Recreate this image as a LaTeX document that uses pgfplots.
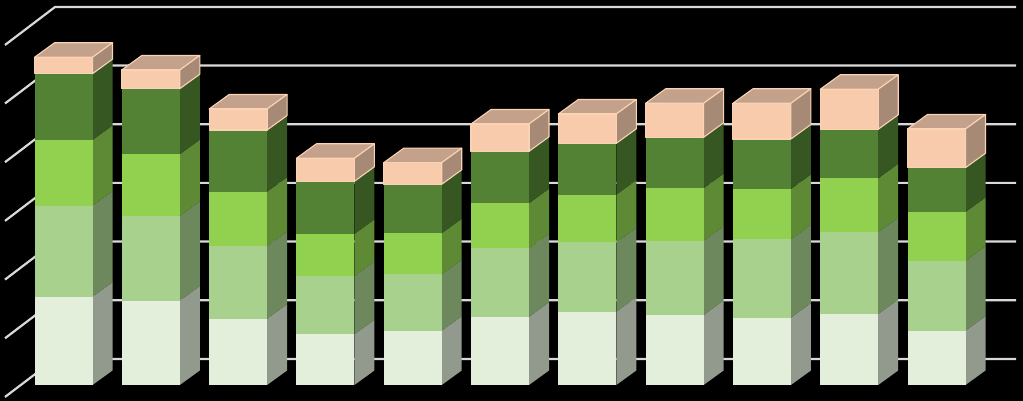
\documentclass[border=0pt]{standalone}
\usepackage{pgfplots}
\pgfplotsset{compat=1.18}
\definecolor{gridc}{HTML}{D9D9D9}
\definecolor{fa}{HTML}{E3EFDA}\definecolor{sa}{HTML}{92998D}
\definecolor{fb}{HTML}{A9D18E}\definecolor{sb}{HTML}{6E885D}
\definecolor{fc}{HTML}{92D050}\definecolor{sc}{HTML}{5F8A35}
\definecolor{fd}{HTML}{548235}\definecolor{sd}{HTML}{365722}
\definecolor{fe}{HTML}{F8CBAD}\definecolor{se}{HTML}{A68A76}\definecolor{te}{HTML}{C3A18B}
\definecolor{oe}{HTML}{FAD2B4}
\newcommand\barw{58}\newcommand\dpx{20}\newcommand\dpy{14.5}
\newcommand\poly[2]{\edef\tmp{\noexpand\addplot[#1] coordinates {#2} --cycle;}\tmp}
% x, y0, y1, front, side
\newcommand\seg[5]{%
  \pgfmathsetmacro\xa{#1}\pgfmathsetmacro\xb{#1+\barw}\pgfmathsetmacro\xc{#1+\barw+\dpx}%
  \pgfmathsetmacro\ya{#2}\pgfmathsetmacro\yb{#3}%
  \pgfmathsetmacro\yc{#2+\dpy}\pgfmathsetmacro\yd{#3+\dpy}%
  \poly{fill=#5,draw=none}{(\xb,\ya)(\xc,\yc)(\xc,\yd)(\xb,\yb)}%
  \poly{fill=#4,draw=none}{(\xa,\ya)(\xb,\ya)(\xb,\yb)(\xa,\yb)}%
}
% x, five segment values
\newcommand\stackbar[6]{%
  \pgfmathsetmacro\sa{#2}\pgfmathsetmacro\sb{#2+#3}\pgfmathsetmacro\sc{#2+#3+#4}%
  \pgfmathsetmacro\sd{#2+#3+#4+#5}\pgfmathsetmacro\se{#2+#3+#4+#5+#6}%
  \edef\sA{\sa}\edef\sB{\sb}\edef\sC{\sc}\edef\sD{\sd}\edef\sE{\se}%
  \seg{#1}{0}{\sA}{fa}{sa}%
  \seg{#1}{\sA}{\sB}{fb}{sb}%
  \seg{#1}{\sB}{\sC}{fc}{sc}%
  \seg{#1}{\sC}{\sD}{fd}{sd}%
  \pgfmathsetmacro\xa{#1}\pgfmathsetmacro\xb{#1+\barw}\pgfmathsetmacro\xc{#1+\barw+\dpx}\pgfmathsetmacro\xd{#1+\dpx}%
  \pgfmathsetmacro\yc{\sD+\dpy}\pgfmathsetmacro\yd{\sE+\dpy}%
  \poly{fill=te,draw=oe,line width=1.1pt,line join=round}{(\xa,\sE)(\xb,\sE)(\xc,\yd)(\xd,\yd)}%
  \poly{fill=se,draw=oe,line width=1.1pt,line join=round}{(\xb,\sD)(\xc,\yc)(\xc,\yd)(\xb,\sE)}%
  \poly{fill=fe,draw=oe,line width=1.1pt,line join=round}{(\xa,\sD)(\xb,\sD)(\xb,\sE)(\xa,\sE)}%
}
\newcommand\gridl[1]{%
  \pgfmathsetmacro\ga{#1}\pgfmathsetmacro\gb{#1-38}%
  \edef\tmp{\noexpand\addplot[gridc,line width=2.2pt] coordinates {(5,\gb)(55,\ga)(1016,\ga)};}\tmp
}
\begin{document}
\begin{tikzpicture}
\begin{axis}[
  hide axis, scale only axis, width=1023pt, height=401pt,
  xmin=0, xmax=1023, ymin=-16, ymax=385, clip=false,
]
\fill[black] (axis cs:0,-16) rectangle (axis cs:1023,385);
\gridl{26}\gridl{84.7}\gridl{143.4}\gridl{202.1}\gridl{260.8}\gridl{319.5}\gridl{378}
\stackbar{34.5}{88.3}{91.0}{65.7}{66.3}{16.4}
\stackbar{121.8}{84.3}{84.7}{61.7}{65.6}{18.7}
\stackbar{209.1}{66.3}{72.7}{54.3}{61.7}{21.0}
\stackbar{296.4}{50.7}{58.3}{42.0}{52.7}{23.0}
\stackbar{383.7}{54.3}{56.4}{41.0}{49.0}{21.6}
\stackbar{471.0}{68.3}{68.4}{45.0}{52.0}{27.3}
\stackbar{558.3}{73.3}{69.4}{47.6}{51.4}{29.3}
\stackbar{645.6}{70.0}{74.3}{52.4}{51.0}{34.0}
\stackbar{732.9}{67.3}{78.4}{50.3}{50.0}{35.7}
\stackbar{820.2}{71.0}{82.0}{53.7}{49.0}{40.0}
\stackbar{907.5}{54.3}{70.0}{48.7}{44.3}{38.7}
\end{axis}
\end{tikzpicture}
\end{document}
